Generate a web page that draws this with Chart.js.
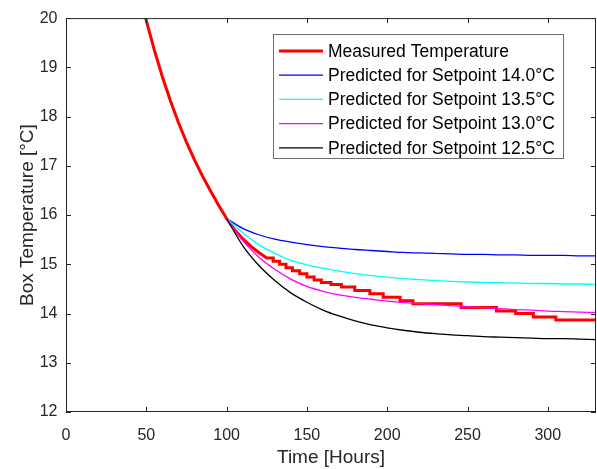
<!DOCTYPE html>
<html>
<head>
<meta charset="utf-8">
<script src="https://cdn.jsdelivr.net/npm/chart.js@4"></script>
<style>
html, body { margin: 0; padding: 0; background: #fff; }
</style>
</head>
<body>
<canvas id="myChart" width="597" height="469"></canvas>
<script>
// measured temperature: smooth cool-down, then sensor steps
const smoothTime = [45, 50, 55, 60, 65, 70, 75, 80, 85, 90, 95, 100, 105, 110, 115, 120, 125];
const smoothTemp = [20.6, 19.95, 19.35, 18.81, 18.32, 17.88, 17.48, 17.12, 16.79, 16.49, 16.20, 15.93, 15.70, 15.52, 15.37, 15.24, 15.13];
const stepTime = [129, 133, 137, 141, 145.5, 150, 154.5, 159, 165, 171.5, 179.8, 189.2, 197.5, 208, 216, 246, 268, 280, 291, 305];
const stepTemp = [15.06, 15.00, 14.93, 14.87, 14.81, 14.74, 14.68, 14.63, 14.59, 14.54, 14.47, 14.40, 14.33, 14.26, 14.20, 14.12, 14.05, 14.00, 13.93, 13.87];
const endTime = 330;

// predictions
const predTime = [100, 110, 120, 130, 140, 150, 160, 170, 180, 190, 200, 210, 220, 230, 240, 250, 260, 270, 280, 290, 300, 310, 320, 330];
const pred140 = [15.93, 15.73, 15.60, 15.51, 15.45, 15.40, 15.36, 15.33, 15.30, 15.28, 15.26, 15.24, 15.23, 15.22, 15.21, 15.20, 15.20, 15.19, 15.19, 15.18, 15.18, 15.18, 15.17, 15.17];
const pred135 = [15.93, 15.64, 15.40, 15.22, 15.08, 14.99, 14.92, 14.86, 14.81, 14.77, 14.74, 14.71, 14.69, 14.67, 14.655, 14.64, 14.63, 14.625, 14.62, 14.61, 14.61, 14.60, 14.60, 14.59];
const pred130 = [15.93, 15.48, 15.15, 14.90, 14.70, 14.55, 14.45, 14.38, 14.33, 14.29, 14.25, 14.22, 14.20, 14.18, 14.16, 14.14, 14.12, 14.10, 14.08, 14.07, 14.05, 14.04, 14.03, 14.02];
const pred125 = [15.93, 15.38, 14.98, 14.67, 14.42, 14.23, 14.07, 13.95, 13.85, 13.77, 13.71, 13.66, 13.62, 13.59, 13.565, 13.55, 13.53, 13.52, 13.51, 13.50, 13.49, 13.49, 13.48, 13.47];

const labels = ['Measured Temperature', 'Predicted for Setpoint 14.0°C', 'Predicted for Setpoint 13.5°C', 'Predicted for Setpoint 13.0°C', 'Predicted for Setpoint 12.5°C'];

const FONT = "'Liberation Sans', Arial, sans-serif";

const measured = smoothTime.map((t, i) => ({x: t, y: smoothTemp[i]}));
let prev = smoothTemp[smoothTemp.length - 1];
stepTime.forEach((t, i) => {
    measured.push({x: t, y: prev});
    measured.push({x: t, y: stepTemp[i]});
    prev = stepTemp[i];
});
measured.push({x: endTime, y: prev});

const pts = arr => predTime.map((t, i) => ({x: t, y: arr[i]}));

const frame = {
    id: 'frame',
    afterDatasetsDraw(chart) {
        const {ctx, chartArea: a, scales: {x, y}} = chart;
        ctx.save();
        ctx.strokeStyle = '#262626';
        ctx.lineWidth = 1;
        ctx.beginPath();
        x.ticks.forEach(t => {
            const px = Math.round(x.getPixelForValue(t.value)) + 0.5;
            ctx.moveTo(px, a.bottom); ctx.lineTo(px, a.bottom - 5);
            ctx.moveTo(px, a.top); ctx.lineTo(px, a.top + 5);
        });
        y.ticks.forEach(t => {
            const py = Math.round(y.getPixelForValue(t.value)) + 0.5;
            ctx.moveTo(a.left, py); ctx.lineTo(a.left + 5, py);
            ctx.moveTo(a.right, py); ctx.lineTo(a.right - 5, py);
        });
        ctx.stroke();
        ctx.strokeRect(a.left + 0.5, a.top + 0.5, a.right - a.left - 1, a.bottom - a.top - 1);

        // legend box
        ctx.fillStyle = '#fff';
        ctx.fillRect(273.5, 34.5, 290, 124);
        ctx.strokeStyle = '#6e6e6e';
        ctx.strokeRect(273.5, 34.5, 290, 124);
        ctx.font = '17.5px ' + FONT;
        ctx.textBaseline = 'middle';
        chart.data.datasets.forEach((ds, i) => {
            const ly = 51 + i * 24.2;
            ctx.strokeStyle = ds.borderColor;
            ctx.lineWidth = ds.borderWidth;
            ctx.beginPath();
            ctx.moveTo(279, ly); ctx.lineTo(323, ly);
            ctx.stroke();
            ctx.fillStyle = '#000';
            ctx.fillText(ds.label, 328, ly + 1);
        });
        ctx.restore();
    }
};

const ctx = document.getElementById('myChart');

new Chart(ctx, {
    type: 'line',
    data: {
        datasets: [
            {label: labels[0], data: measured, borderColor: '#ff0000', borderWidth: 3, order: 5, tension: 0, clip: 0},
            {label: labels[1], data: pts(pred140), borderColor: '#0000ff', borderWidth: 1.3, order: 4, cubicInterpolationMode: 'monotone'},
            {label: labels[2], data: pts(pred135), borderColor: '#00ffff', borderWidth: 1.3, order: 3, cubicInterpolationMode: 'monotone'},
            {label: labels[3], data: pts(pred130), borderColor: '#ff00ff', borderWidth: 1.3, order: 2, cubicInterpolationMode: 'monotone'},
            {label: labels[4], data: pts(pred125), borderColor: '#000000', borderWidth: 1.3, order: 1, cubicInterpolationMode: 'monotone'}
        ]
    },
    options: {
        responsive: false,
        animation: false,
        elements: {point: {radius: 0}},
        layout: {padding: {top: 15, right: 1, left: 0, bottom: 0}},
        plugins: {legend: {display: false}, tooltip: {enabled: false}},
        scales: {
            x: {
                type: 'linear',
                min: 0,
                max: 330,
                afterFit: s => { s.height = 57; },
                afterBuildTicks: s => { s.ticks = [0, 50, 100, 150, 200, 250, 300].map(v => ({value: v})); },
                grid: {display: false, drawTicks: false},
                border: {display: false},
                ticks: {color: '#262626', font: {family: FONT, size: 16}, padding: 14, maxRotation: 0},
                title: {display: true, text: 'Time [Hours]', color: '#262626', font: {family: FONT, size: 19, lineHeight: 1}, padding: {top: 0, bottom: 2}}
            },
            y: {
                min: 12,
                max: 20,
                afterFit: s => { s.width = 66; },
                grid: {display: false, drawTicks: false},
                border: {display: false},
                ticks: {stepSize: 1, color: '#262626', font: {family: FONT, size: 16}, padding: 8.5},
                title: {display: true, text: 'Box Temperature [°C]', color: '#262626', font: {family: FONT, size: 19, lineHeight: 1}, padding: {top: 18, bottom: 0}}
            }
        }
    },
    plugins: [frame]
});
</script>
</body>
</html>
